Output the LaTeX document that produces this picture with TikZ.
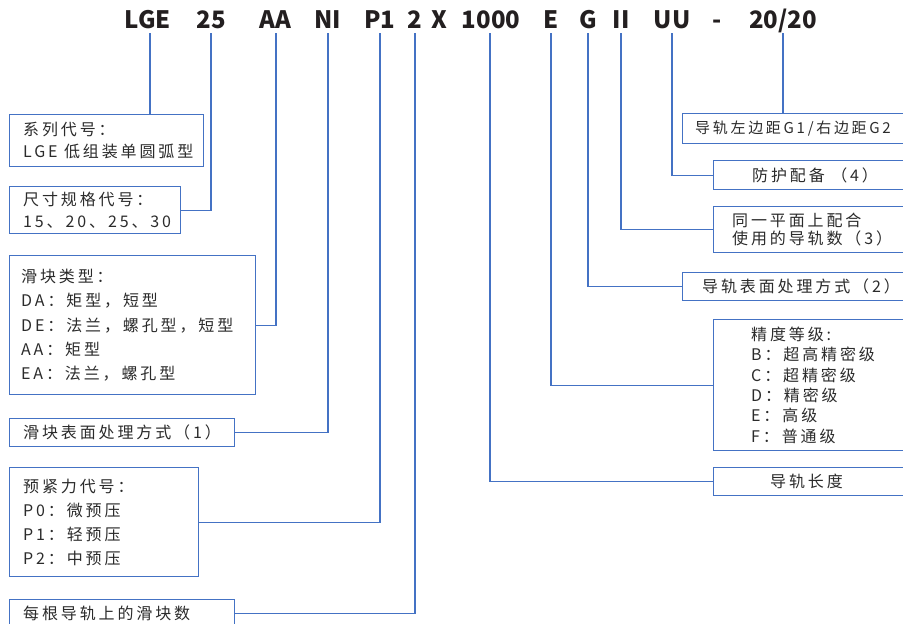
\documentclass[tikz,border=0pt]{standalone}
\usepackage{fontspec}
\setmainfont{Noto Sans CJK SC}
\newfontfamily\cjk[LetterSpace=18]{Noto Sans CJK SC}
\definecolor{lineblue}{HTML}{4472C4}
\definecolor{txt}{HTML}{2B2B2B}
\definecolor{codeblack}{HTML}{231F20}
\begin{document}
\begin{tikzpicture}[x=1pt,y=-1pt,
  box/.style={draw=lineblue, line width=1.3pt, anchor=north west, inner sep=0pt},
  lbl/.style={anchor=west, align=left, inner sep=0pt, text=txt, font=\cjk\fontsize{16}{#1}\selectfont},
  lbl/.default=22,
  code/.style={anchor=base, inner sep=0pt, text=codeblack, font=\fontsize{24}{24}\selectfont\bfseries},
  conn/.style={draw=lineblue, line width=1.2pt}]
\useasboundingbox (0,0) rectangle (903,624);
\clip (0,0) rectangle (903,624);
% code line
\node[code] (cLGE) at (148,28) {LGE};
\node[code] (c25) at (211,28) {25};
\node[code] (cAA) at (275,28) {AA};
\node[code] (cNI) at (328,28) {NI};
\node[code] (cP1) at (380,28) {P1};
\node[code] (c2) at (415,28) {2};
\node[code] (cX) at (439,28) {X};
\node[code] (c1000) at (491,28) {1000};
\node[code] (cE) at (551,28) {E};
\node[code] (cG) at (588,28) {G};
\node[code] (cII) at (621,28) {II};
\node[code] (cUU) at (672,28) {UU};
\node[code] (cDash) at (717,28) {-};
\node[code] (c2020) at (783,28) {20/20};
% left boxes
\node[box, minimum width=194pt, minimum height=52pt] (b1) at (9,114) {};
\node[lbl] (t1) at ([xshift=14pt]b1.west) {系列代号：\\LGE 低组装单圆弧型};
\node[box, minimum width=171pt, minimum height=47pt] (b2) at (9,186) {};
\node[lbl] (t2) at ([xshift=14pt]b2.west) {尺寸规格代号：\\15、20、25、30};
\node[box, minimum width=246pt, minimum height=139pt] (b3) at (9,255) {};
\node[lbl=24.3] (t3) at ([xshift=12pt]b3.west) {滑块类型：\\DA：矩型，短型\\DE：法兰，螺孔型，短型\\AA：矩型\\EA：法兰，螺孔型};
\node[box, minimum width=225pt, minimum height=28pt] (b4) at (9,418) {};
\node[lbl] (t4) at ([xshift=14pt]b4.west) {滑块表面处理方式（1）};
\node[box, minimum width=189pt, minimum height=109pt] (b5) at (9,467) {};
\node[lbl=24] (t5) at ([xshift=14pt]b5.west) {预紧力代号：\\P0：微预压\\P1：轻预压\\P2：中预压};
\node[box, minimum width=225pt, minimum height=27pt] (b6) at (9,599) {};
\node[lbl] (t6) at ([xshift=14pt]b6.west) {每根导轨上的滑块数};
% right boxes
\node[box, minimum width=240pt, minimum height=30pt] (r1) at (682,113) {};
\node[lbl, font=\cjk\fontsize{15}{20}\selectfont] (s1) at ([xshift=13pt]r1.west) {导轨左边距G1/右边距G2};
\node[box, minimum width=210pt, minimum height=29pt] (r2) at (713,160) {};
\node[lbl] (s2) at ([xshift=39pt]r2.west) {防护配备 （4）};
\node[box, minimum width=210pt, minimum height=46pt] (r3) at (713,206) {};
\node[lbl=18] (s3) at ([xshift=19pt]r3.west) {同一平面上配合\\使用的导轨数（3）};
\node[box, minimum width=240pt, minimum height=28pt] (r4) at (682,272) {};
\node[lbl] (s4) at ([xshift=20pt]r4.west) {导轨表面处理方式（2）};
\node[box, minimum width=210pt, minimum height=131pt] (r5) at (713,319) {};
\node[lbl=20.4] (s5) at ([xshift=38pt]r5.west) {精度等级:\\B：超高精密级\\C：超精密级\\D：精密级\\E：高级\\F：普通级};
\node[box, minimum width=210pt, minimum height=28pt] (r6) at (713,467) {};
\node[lbl] (s6) at ([xshift=57pt]r6.west) {导轨长度};
% connectors
\draw[conn] ([yshift=-5pt]cLGE.base) ++(2pt,0) coordinate (k1) -- (k1 |- b1.north);
\draw[conn] ([yshift=-5pt]c25.base) |- (b2.east);
\draw[conn] ([yshift=-5pt]cAA.base) ++(1pt,0) |- (b3.east);
\draw[conn] ([yshift=-5pt]cNI.base) |- (b4.east);
\draw[conn] ([yshift=-5pt]cP1.base) |- (b5.east);
\draw[conn] ([yshift=-5pt]c2.base) |- (b6.east);
\draw[conn] ([yshift=-5pt]c1000.base) ++(-1pt,0) |- (r6.west);
\draw[conn] ([yshift=-5pt]cE.base) |- (r5.west);
\draw[conn] ([yshift=-5pt]cG.base) |- (r4.west);
\draw[conn] ([yshift=-5pt]cII.base) |- (r3.west);
\draw[conn] ([yshift=-5pt]cUU.base) |- (r2.west);
\draw[conn] ([yshift=-5pt]c2020.base) coordinate (k2) -- (k2 |- r1.north);
\end{tikzpicture}
\end{document}
